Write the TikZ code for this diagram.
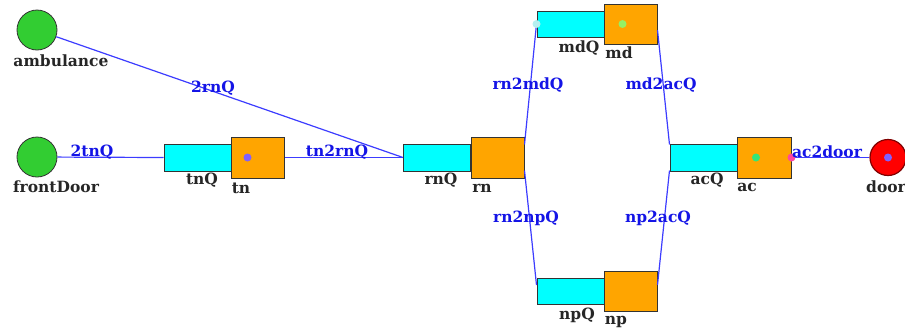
\documentclass[tikz,border=0pt]{standalone}
\usepackage{fontspec}
\setmainfont{DejaVu Serif}
\usetikzlibrary{calc}
\begin{document}
\begin{tikzpicture}[x=1pt,y=-1pt,
  queue/.style={draw=black!80,line width=1pt,fill=qcyan,minimum width=67pt,minimum height=27pt,inner sep=0pt},
  server/.style={draw=black!80,line width=1pt,fill=sorange,minimum width=53pt,minimum height=41pt,inner sep=0pt},
  src/.style={circle,draw=black!80,line width=0.8pt,fill=srcgreen,minimum size=40pt,inner sep=0pt},
  sink/.style={circle,draw=red!50!black,line width=1.2pt,fill=sinkred,minimum size=36pt,inner sep=0pt},
  dot/.style={circle,fill=#1,minimum size=8pt,inner sep=0pt},
  lbl/.style={font=\bfseries\fontsize{15.5}{18}\selectfont,text=black!85,inner sep=0pt},
  elbl/.style={font=\bfseries\fontsize{15.5}{18}\selectfont,text=eblue,inner sep=0pt},
  conn/.style={draw=lblue,line width=1.2pt}]
\definecolor{qcyan}{RGB}{0,255,255}
\definecolor{sorange}{RGB}{255,165,0}
\definecolor{sinkred}{RGB}{255,0,0}
\definecolor{eblue}{RGB}{20,20,230}
\definecolor{lblue}{RGB}{60,60,255}
\definecolor{dotpurple}{RGB}{128,96,255}
\definecolor{dotcyan}{RGB}{180,240,240}
\definecolor{dotlgreen}{RGB}{150,240,100}
\definecolor{dotgreen}{RGB}{50,230,120}
\definecolor{dotpink}{RGB}{255,70,160}
\definecolor{srcgreen}{RGB}{50,205,50}
\useasboundingbox (0,0) rectangle (905,335);
% nodes
\node[src] (ambulance) at (37,30) {};
\node[src] (frontDoor) at (37,157) {};
\node[sink] (door) at (888,157.5) {};
\node[queue] (tnQ) at (197.5,157.5) {};
\node[server] (tn) at (257.5,157.5) {};
\node[queue] (rnQ) at (437,157.5) {};
\node[server] (rn) at (497.5,157.5) {};
\node[queue,minimum height=26pt] (mdQ) at (570.5,24) {};
\node[server,minimum height=40pt] (md) at (630.5,24) {};
\node[queue,minimum height=26pt] (npQ) at (570.5,291) {};
\node[server,minimum height=40pt] (np) at (630.5,291) {};
\node[queue] (acQ) at (703.5,157.5) {};
\node[server,minimum width=54pt] (ac) at (764,157.5) {};
% connector end points
\coordinate (rnA) at ($(rn.east)+(0,-13)$);
\coordinate (rnB) at ($(rn.east)+(0,13)$);
\coordinate (mdR) at ($(md.east)+(0,6)$);
\coordinate (npR) at ($(np.east)+(0,-6)$);
\coordinate (acA) at ($(acQ.west)+(0,-13)$);
\coordinate (acB) at ($(acQ.west)+(0,13)$);
\coordinate (npL) at ($(npQ.west)+(0,-6)$);
% connectors
\draw[conn] (ambulance) -- (rnQ.west);
\draw[conn] (frontDoor) -- (tnQ.west);
\draw[conn] (tn.east) -- (rnQ.west);
\draw[conn] (rnA) -- (mdQ.west);
\draw[conn] (rnB) -- (npL);
\draw[conn] (mdR) -- (acA);
\draw[conn] (npR) -- (acB);
\draw[conn] (ac.east) -- (door);
% dots
\node[dot=dotpurple] (tndot) at ($(tn.center)+(-10,0)$) {};
\node[dot=dotcyan] (mddot0) at (mdQ.west) {};
\node[dot=dotlgreen] (mddot) at ($(md.center)+(-8,0)$) {};
\node[dot=dotgreen] (acdot) at ($(ac.center)+(-8,0)$) {};
\node[dot=dotpink] (acdot2) at (ac.east) {};
\node[dot=dotpurple] (doordot) at (door.center) {};
% black labels
\node[lbl] (lamb) at (61,61) {ambulance};
\node[lbl] (lfd) at (56,187) {frontDoor};
\node[lbl] (ldoor) at (886,187) {door};
\node[lbl] (ltnQ) at (202,180) {tnQ};
\node[lbl] (ltn) at (241,188) {tn};
\node[lbl] (lrnQ) at (441,180) {rnQ};
\node[lbl] (lrn) at (482,188) {rn};
\node[lbl] (lmdQ) at (579,48) {mdQ};
\node[lbl] (lmd) at (619,53) {md};
\node[lbl] (lnpQ) at (577,315) {npQ};
\node[lbl] (lnp) at (616,322) {np};
\node[lbl] (lacQ) at (707,180) {acQ};
\node[lbl] (lac) at (747,187) {ac};
% blue labels
\node[elbl] (e1) at (213,88) {2rnQ};
\node[elbl] (e2) at (92,152) {2tnQ};
\node[elbl] (e3) at (337,152) {tn2rnQ};
\node[elbl] (e4) at (528,85) {rn2mdQ};
\node[elbl] (e5) at (661,85) {md2acQ};
\node[elbl] (e6) at (526,218) {rn2npQ};
\node[elbl] (e7) at (658,218) {np2acQ};
\node[elbl] (e8) at (827,152) {ac2door};
\end{tikzpicture}
\end{document}
